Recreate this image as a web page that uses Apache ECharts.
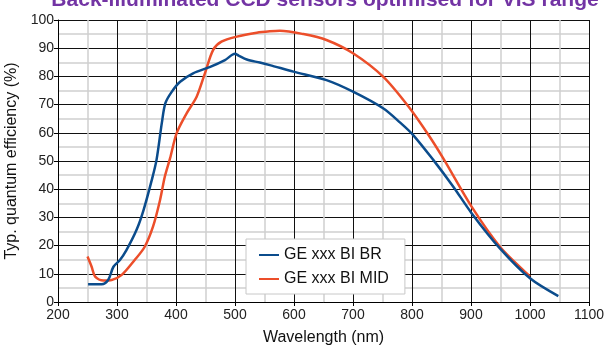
<!DOCTYPE html>
<html lang="en">
<head>
    <meta charset="UTF-8">
    <title>QE chart</title>
    <style>
        html, body { margin: 0; padding: 0; background: #fff; }
    </style>
</head>
<body>
    <div id="main" style="width: 605px;height:347px;"></div>
    <script src="https://cdn.jsdelivr.net/npm/echarts@6/dist/echarts.min.js"></script>
    <script>
    // GE xxx BI BR  (wavelength nm / QE %)
    var brWavelength = [251, 274, 285, 294, 305, 316, 333, 345, 359, 367, 376, 382, 393, 407, 429, 458, 483, 500, 506, 520, 542, 559, 599, 655, 700, 751, 780, 802, 836, 870, 901, 949, 1000, 1048];
    var brQE = [6.3, 6.3, 7.8, 12.5, 14.9, 18.4, 25.5, 32.6, 43.3, 50.4, 63.5, 70.5, 74.6, 78.1, 81.1, 83.4, 85.8, 88.0, 87.4, 86.0, 84.9, 84.0, 81.7, 78.7, 74.6, 68.7, 63.6, 59.2, 50.4, 40.9, 31.5, 19.0, 8.4, 2.1];

    // GE xxx BI MID
    var midWavelength = [250, 257, 263, 277, 291, 308, 330, 347, 361, 373, 381, 390, 401, 418, 435, 449, 463, 477, 503, 537, 559, 576, 616, 655, 700, 751, 794, 828, 853, 901, 949, 994, 1000];
    var midQE = [16.1, 12.5, 9.0, 7.6, 7.8, 9.6, 14.9, 19.6, 26.7, 36.2, 44.4, 51.0, 59.8, 66.9, 72.8, 81.1, 89.4, 92.3, 94.1, 95.5, 96.0, 96.2, 95.0, 92.9, 88.2, 79.9, 69.3, 59.2, 50.9, 33.8, 19.6, 10.2, 9.0];

    var seriesNames = ['GE xxx BI BR', 'GE xxx BI MID'];
    var xTicks = [200, 300, 400, 500, 600, 700, 800, 900, 1000, 1100];
    var yTicks = [0, 10, 20, 30, 40, 50, 60, 70, 80, 90, 100];

    function pairs(xs, ys) {
        var out = [];
        for (var i = 0; i < xs.length; i++) {
            out.push([xs[i], ys[i]]);
        }
        return out;
    }

    var myChart = echarts.init(document.getElementById('main'));
    var font = 'Liberation Sans, Arial, sans-serif';

    var option = {
        animation: false,
        backgroundColor: '#fff',
        title: {
            text: 'Back-illuminated CCD sensors optimised for VIS range',
            left: 320,
            textAlign: 'center',
            top: -15,
            textStyle: {
                color: '#7334A4',
                fontSize: 21,
                fontWeight: 'bold',
                fontFamily: font
            }
        },
        legend: {
            data: seriesNames,
            orient: 'vertical',
            left: 246,
            top: 239,
            backgroundColor: '#fff',
            borderColor: '#c8c8c8',
            borderWidth: 1,
            padding: [8, 16, 7, 13],
            itemGap: 8,
            itemWidth: 20,
            itemHeight: 2,
            icon: 'rect',
            textStyle: {
                fontSize: 16,
                color: '#111',
                fontFamily: font
            }
        },
        grid: {
            left: 58,
            right: 16,
            top: 20,
            bottom: 45,
            outerBoundsMode: 'none'
        },
        xAxis: {
            type: 'value',
            min: xTicks[0],
            max: xTicks[xTicks.length - 1],
            interval: 100,
            name: 'Wavelength (nm)',
            nameLocation: 'middle',
            nameGap: 28,
            nameTextStyle: { fontSize: 16, color: '#111', fontFamily: font },
            axisLine: { show: true, lineStyle: { color: '#000', width: 1 } },
            axisTick: { show: true, length: 4, lineStyle: { color: '#000' } },
            axisLabel: { fontSize: 14, color: '#222', margin: 6, fontFamily: font, formatter: function (v) { return String(v); } },
            splitLine: { show: true, lineStyle: { color: '#111', width: 1 } },
            minorTick: { show: false, splitNumber: 2 },
            minorSplitLine: { show: true, lineStyle: { color: '#cfcfcf', width: 1.5 } }
        },
        yAxis: {
            type: 'value',
            min: yTicks[0],
            max: yTicks[yTicks.length - 1],
            interval: 10,
            name: 'Typ. quantum efficiency (%)',
            nameLocation: 'middle',
            nameGap: 30,
            nameTextStyle: { fontSize: 16, color: '#111', fontFamily: font },
            axisLine: { show: true, lineStyle: { color: '#000', width: 1 } },
            axisTick: { show: true, length: 4, lineStyle: { color: '#000' } },
            axisLabel: { fontSize: 14, color: '#222', margin: 4, fontFamily: font },
            splitLine: { show: true, lineStyle: { color: '#111', width: 1 } },
            minorTick: { show: false, splitNumber: 2 },
            minorSplitLine: { show: true, lineStyle: { color: '#cfcfcf', width: 1.5 } }
        },
        series: [
            {
                name: seriesNames[0],
                type: 'line',
                smooth: 0.3,
                showSymbol: false,
                data: pairs(brWavelength, brQE),
                itemStyle: { color: '#0B4C8C' },
                lineStyle: { color: '#0B4C8C', width: 2.5 },
                z: 3
            },
            {
                name: seriesNames[1],
                type: 'line',
                smooth: 0.3,
                showSymbol: false,
                data: pairs(midWavelength, midQE),
                itemStyle: { color: '#EC4E2A' },
                lineStyle: { color: '#EC4E2A', width: 2.5 },
                z: 2
            }
        ]
    };
    myChart.setOption(option);
    </script>
</body>
</html>
